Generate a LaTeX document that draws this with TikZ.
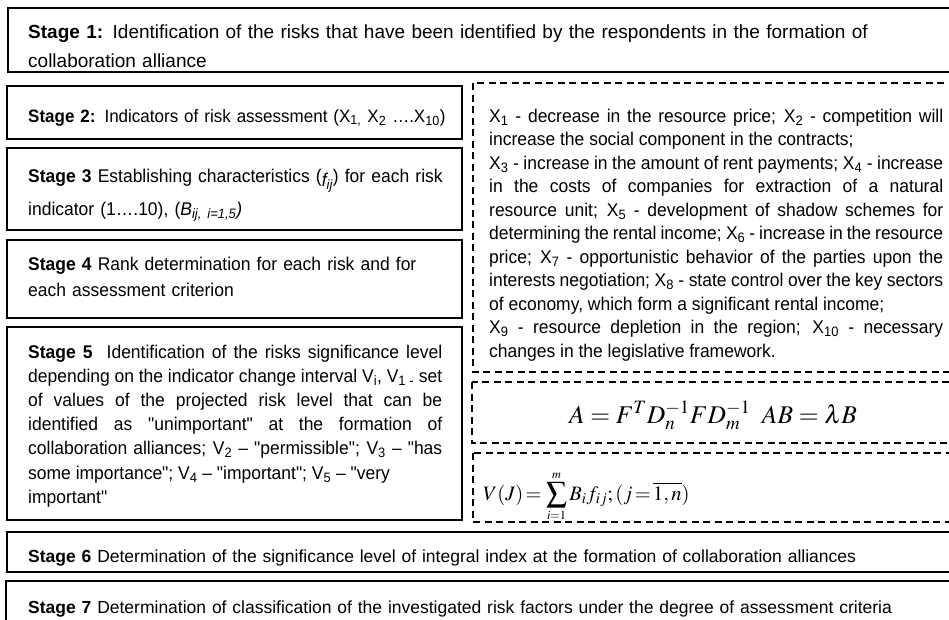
\documentclass[tikz,border=0pt]{standalone}
\usepackage{mathptmx}
\usepackage[no-math]{fontspec}
\setmainfont{Liberation Sans}[Ligatures=TeXOff]
\newfontfamily\narrowsf{Liberation Sans}[Ligatures=TeXOff,FakeStretch=0.95]
\usetikzlibrary{positioning}

\tikzset{
  frame/.style={line width=1.5pt},
  dframe/.style={line width=1.2pt,dash pattern=on 7pt off 4.5pt},
  stagetext/.style={anchor=base west,inner sep=0pt,align=left,text width=440pt,
    font=\narrowsf\fontsize{18.4}{26}\selectfont},
  jtext/.style={anchor=base west,inner sep=0pt,align=justify,
    font=\narrowsf\fontsize{18.4}{23.5}\selectfont,
    execute at begin node={\hyphenpenalty=10000\relax}},
}

\begin{document}
\begin{tikzpicture}[x=1pt,y=-1pt]
  \clip (0,0) rectangle (949,619);
  % solid stage frames
  \draw[frame] (8,8) rectangle (960,72);
  \draw[frame] (7,86) rectangle (462,139);
  \draw[frame] (7,148) rectangle (462,230);
  \draw[frame] (7,240) rectangle (462,318);
  \draw[frame] (7,327) rectangle (462,520);
  \draw[frame] (7,532) rectangle (960,572);
  \draw[frame] (6,581) rectangle (960,630);
  % dashed frames on the right
  \draw[dframe] (473,83) rectangle (960,372);
  \draw[dframe] (472,382) rectangle (960,443);
  \draw[dframe] (473,453) rectangle (960,522);

  \node[stagetext,text width=900pt,font=\fontsize{19}{29}\selectfont] (stageone) at (28,38)
    {\textbf{Stage 1:} Identification of the risks that have been identified by the respondents in the formation of\\collaboration alliance};
  \node[stagetext,font=\narrowsf\fontsize{17.9}{26}\selectfont] (stagetwo) at (28,122)
    {\textbf{Stage 2:} Indicators of risk assessment (X\textsubscript{1,} X\textsubscript{2} ….X\textsubscript{10})};
  \node[stagetext] (stagethree) at (28,182)
    {\textbf{Stage 3} Establishing characteristics (\raisebox{-4pt}{\textit{f\textsubscript{ij}}}) for each risk\\[7pt]indicator (1….10), (\textit{B\textsubscript{ij, i=1,5})}};
  \node[stagetext] (stagefour) at (28,270)
    {\textbf{Stage 4} Rank determination for each risk and for\\each assessment criterion};
  \node[jtext,text width=414pt,font=\narrowsf\fontsize{18.4}{24.2}\selectfont] (stagefive) at (28,358)
    {\textbf{Stage 5}\ \ Identification of the risks significance level\linebreak
     depending on the indicator change interval V\textsubscript{i}, V\textsubscript{1 -} set\linebreak
     of values of the projected risk level that can be\linebreak
     identified as "unimportant" at the formation of\linebreak
     collaboration alliances; V\textsubscript{2} – "permissible"; V\textsubscript{3} – "has\linebreak
     some importance"; V\textsubscript{4} – "important"; V\textsubscript{5} – "very\\
     important"};
  \node[stagetext,text width=900pt,font=\fontsize{17.5}{26}\selectfont] (stagesix) at (28,562)
    {\textbf{Stage 6} Determination of the significance level of integral index at the formation of collaboration alliances};
  \node[stagetext,text width=900pt,font=\fontsize{17.5}{26}\selectfont] (stageseven) at (28,613)
    {\textbf{Stage 7} Determination of classification of the investigated risk factors under the degree of assessment criteria};

  % risk indicators and the two formulas
  \node[jtext,text width=454pt] (risklist) at (489,122)
    {X\textsubscript{1} - decrease in the resource price; X\textsubscript{2} - competition will\linebreak
     increase the social component in the contracts;\\
     X\textsubscript{3} - increase in the amount of rent payments; X\textsubscript{4} - increase\linebreak
     in the costs of companies for extraction of a natural\linebreak
     resource unit; X\textsubscript{5} - development of shadow schemes for\linebreak
     determining the rental income; X\textsubscript{6} - increase in the resource\linebreak
     price; X\textsubscript{7} - opportunistic behavior of the parties upon the\linebreak
     interests negotiation; X\textsubscript{8} - state control over the key sectors\linebreak
     of economy, which form a significant rental income;\\
     X\textsubscript{9} - resource depletion in the region; X\textsubscript{10} - necessary\linebreak
     changes in the legislative framework.};
  \node[anchor=base,inner sep=0pt,font=\fontsize{25.5}{30}\selectfont] (eigeneq) at (713,423)
    {$A = F^{T} D_{n}^{-1} F D_{m}^{-1}\;\; AB = \lambda B$};
  \node[anchor=base west,inner sep=0pt,font=\fontsize{20.5}{24}\selectfont] (integral) at (483,500)
    {$\displaystyle V(J)\,{=}\,\sum_{\scriptscriptstyle i=1}^{\scriptscriptstyle m} B_{i} f_{ij};(j\,{=}\,\overline{1,n})$};
\end{tikzpicture}
\end{document}
